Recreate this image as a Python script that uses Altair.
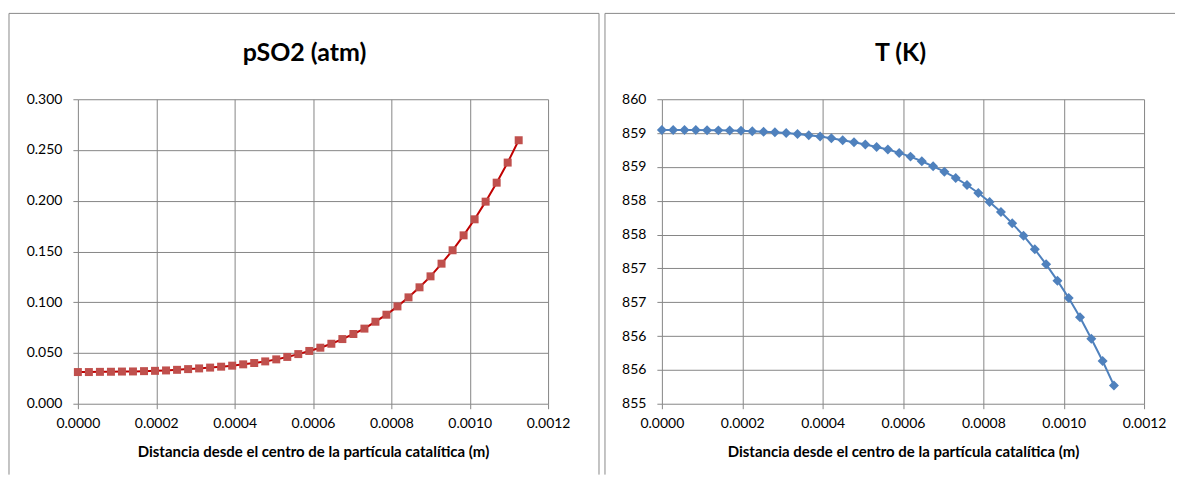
import altair as alt
import pandas as pd

# distance from the particle centre (m)
dist = [0.0, 0.0000281, 0.0000563, 0.0000844, 0.0001125, 0.0001406, 0.0001688,
        0.0001969, 0.000225, 0.0002531, 0.0002813, 0.0003094, 0.0003375,
        0.0003656, 0.0003938, 0.0004219, 0.00045, 0.0004781, 0.0005063,
        0.0005344, 0.0005625, 0.0005906, 0.0006188, 0.0006469, 0.000675,
        0.0007031, 0.0007313, 0.0007594, 0.0007875, 0.0008156, 0.0008438,
        0.0008719, 0.0009, 0.0009281, 0.0009563, 0.0009844, 0.0010125,
        0.0010406, 0.0010688, 0.0010969, 0.001125]

pso2 = [0.0312, 0.0312, 0.0314, 0.0315, 0.0317, 0.0318, 0.0321, 0.0324, 0.0328,
        0.0334, 0.0341, 0.0348, 0.0356, 0.0365, 0.0375, 0.0388, 0.0401, 0.0417,
        0.0437, 0.0461, 0.0489, 0.0520, 0.0552, 0.0591, 0.0637, 0.0687, 0.0740,
        0.0808, 0.0877, 0.0959, 0.1048, 0.1147, 0.1255, 0.1380, 0.1512, 0.1659,
        0.1817, 0.1991, 0.2178, 0.2376, 0.2596]

temp = [859.047, 859.047, 859.046, 859.044, 859.042, 859.040, 859.037, 859.033,
        859.028, 859.021, 859.012, 859.000, 858.985, 858.968, 858.948, 858.923,
        858.894, 858.864, 858.830, 858.795, 858.756, 858.707, 858.652, 858.583,
        858.509, 858.430, 858.337, 858.233, 858.115, 857.982, 857.834, 857.666,
        857.484, 857.282, 857.060, 856.819, 856.562, 856.277, 855.961, 855.631,
        855.271]

x_ticks = [0.0, 0.0002, 0.0004, 0.0006, 0.0008, 0.0010, 0.0012]
p_ticks = [0.0, 0.05, 0.10, 0.15, 0.20, 0.25, 0.30]
t_ticks = [855.0, 855.5, 856.0, 856.5, 857.0, 857.5, 858.0, 858.5, 859.0, 859.5]

x_title = "Distancia desde el centro de la partícula catalítica (m)"
FONT = "Lato"
BORDER = "#8a8a8a"

df = pd.DataFrame({"x": dist, "p": pso2, "t": temp})


def panel(ycol, ydom, yvals, yfmt, mcolor, lcolor, shape, msize, width, title,
          title_x, rules):
    xenc = alt.X("x:Q",
                 scale=alt.Scale(domain=[0, 0.0012], nice=False, zero=False),
                 axis=alt.Axis(values=x_ticks, format=".4f", title=x_title,
                               labelFlush=False, labelPadding=8, titlePadding=14))
    yenc = alt.Y(f"{ycol}:Q",
                 scale=alt.Scale(domain=ydom, nice=False, zero=False),
                 axis=alt.Axis(values=yvals, format=yfmt, title=None,
                               labelOverlap=False, labelPadding=11))
    base = alt.Chart(df)
    line = base.mark_line(color=lcolor, strokeWidth=2).encode(x=xenc, y=yenc)
    pts = base.mark_point(shape=shape, filled=True, size=msize, color=mcolor,
                          opacity=1).encode(x=xenc, y=yenc)
    ttl = alt.Chart(pd.DataFrame({"t": [title]})).mark_text(
        font=FONT, fontSize=25, fontWeight="bold", color="black",
        baseline="middle", align="center"
    ).encode(text="t:N", x=alt.value(title_x), y=alt.value(-46))
    layers = [line, pts, ttl]
    for (x1, y1, x2, y2) in rules:
        layers.append(
            alt.Chart(pd.DataFrame({"k": [0]})).mark_rule(
                color=BORDER, strokeWidth=1
            ).encode(x=alt.value(x1), y=alt.value(y1),
                     x2=alt.value(x2), y2=alt.value(y2))
        )
    return alt.layer(*layers).properties(width=width, height=305)


BOTTOM = 376
left = panel("p", [0, 0.3], p_ticks, ".3f", "#C0504D", "#C00000", "square",
             64, 471, "pSO2 (atm)", 227,
             [(-69, -86, -69, BOTTOM), (-69, -86, 522, -86), (522, -86, 522, BOTTOM)])
right = panel("t", [855, 859.5], t_ticks, ".0f", "#4F81BD", "#4F81BD", "diamond",
              100, 483, "T (K)", 239,
              [(-57, -86, -57, BOTTOM), (-57, -86, 514, -86)])

chart = alt.hconcat(left, right, spacing=4, bounds="full").properties(
    padding={"left": 0, "top": 4, "right": 0, "bottom": 0}
).configure_view(stroke=None).configure_axis(
    labelFont=FONT, labelFontSize=14, labelColor="black",
    titleFont=FONT, titleFontSize=15, titleFontWeight="bold", titleColor="black",
    grid=True, gridColor="#868686", gridWidth=1,
    tickColor="#868686", tickSize=5, tickWidth=1,
    domain=False
)

chart.save("out.html", embed_options={"renderer": "svg", "actions": False})
